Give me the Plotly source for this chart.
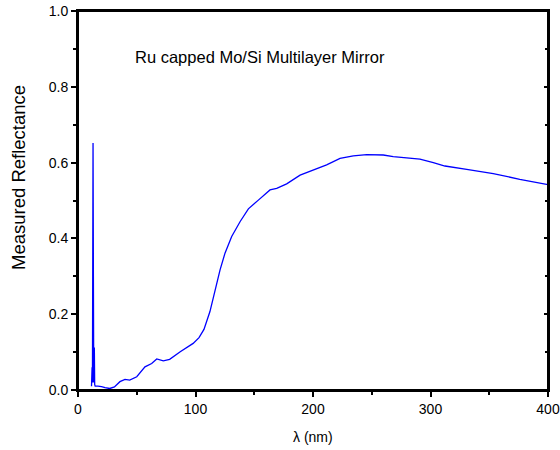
import plotly.graph_objects as go

wavelength = [11.5, 12.0, 12.3, 12.6, 12.8, 13.1, 13.4, 13.7, 13.9, 14.2, 14.6, 17, 20, 23, 27, 31,
              35.7, 40, 44, 50, 57, 62.7, 67, 72.6, 78, 87, 98, 103, 107.2, 112.3, 116.6,
              120.9, 125.1, 130.8, 137.9, 145, 153.5, 163.4, 169.1, 177.6, 189, 200.3,
              211.6, 223, 234.3, 245.7, 259.8, 268.3, 291, 302.4, 312.3, 330.8, 353.4,
              376, 398.9, 400]
reflectance = [0.010, 0.060, 0.020, 0.300, 0.652, 0.300, 0.020, 0.060, 0.112, 0.015, 0.010, 0.010, 0.009, 0.006, 0.004, 0.008,
               0.022, 0.028, 0.026, 0.035, 0.061, 0.070, 0.082, 0.077, 0.081, 0.101, 0.123, 0.138, 0.160, 0.207, 0.264,
               0.317, 0.361, 0.405, 0.444, 0.478, 0.501, 0.528, 0.532, 0.544, 0.567, 0.580,
               0.594, 0.611, 0.618, 0.621, 0.620, 0.616, 0.609, 0.600, 0.591, 0.582, 0.571,
               0.556, 0.543, 0.542]

x_tickvals = [0, 100, 200, 300, 400]
y_tickvals = [0.0, 0.2, 0.4, 0.6, 0.8, 1.0]
y_ticktext = ["0.0", "0.2", "0.4", "0.6", "0.8", "1.0"]
title_text = "Ru capped Mo/Si Multilayer Mirror"
x_title = "λ (nm)"
y_title = "Measured Reflectance"

font_family = "Liberation Sans, Arial, sans-serif"

FIG_W, FIG_H = 560, 450
ML, MR, MT, MB = 78, 12, 11, 60
plot_w = FIG_W - ML - MR
plot_h = FIG_H - MT - MB


def px_to_paper(px, py):
    return (px - ML) / plot_w, (FIG_H - MB - py) / plot_h


fig = go.Figure()
fig.add_trace(go.Scatter(x=wavelength, y=reflectance, mode="lines",
                         line=dict(color="#0000FF", width=1.3), showlegend=False))
# invisible helper trace for the right axis (inward ticks)
fig.add_trace(go.Scatter(x=wavelength, y=reflectance, mode="lines", xaxis="x", yaxis="y2",
                         line=dict(color="rgba(0,0,0,0)", width=0), showlegend=False, hoverinfo="skip"))

tx, ty = px_to_paper(133, 57)
xx, xy = px_to_paper(313, 437)
yx, yy = px_to_paper(18, 178)

fig.update_layout(
    width=FIG_W, height=FIG_H,
    margin=dict(l=ML, r=MR, t=MT, b=MB),
    paper_bgcolor="white", plot_bgcolor="white",
    font=dict(family=font_family, size=14, color="black"),
    xaxis=dict(range=[0, 400], tickvals=x_tickvals, ticks="outside", ticklen=5, tickwidth=1.5,
               tickcolor="black", showline=True, mirror=True, linecolor="black", linewidth=2,
               showgrid=False, zeroline=False, automargin=False, ticklabeloverflow="allow",
               minor=dict(dtick=50, tick0=0, ticks="outside", ticklen=3, tickwidth=1.5, tickcolor="black"),
               tickfont=dict(size=14)),
    yaxis=dict(range=[0, 1.0], tickvals=y_tickvals, ticktext=y_ticktext, ticks="outside", ticklen=5,
               tickwidth=1.5, tickcolor="black", showline=True, linecolor="black", linewidth=2,
               showgrid=False, zeroline=False, automargin=False, ticklabeloverflow="allow",
               minor=dict(dtick=0.1, tick0=0, ticks="outside", ticklen=3, tickwidth=1.5, tickcolor="black"),
               tickfont=dict(size=14)),
    yaxis2=dict(range=[0, 1.0], overlaying="y", side="right", anchor="x", showline=True,
                linecolor="black", linewidth=2, tickvals=y_tickvals, ticks="inside", ticklen=4,
                tickwidth=1.5, tickcolor="black", showticklabels=False, showgrid=False,
                zeroline=False, automargin=False,
                minor=dict(dtick=0.1, tick0=0, ticks="inside", ticklen=3, tickwidth=1.5, tickcolor="black")),
    shapes=[dict(type="rect", xref="paper", yref="paper", x0=0, x1=1, y0=0, y1=1,
                 line=dict(color="black", width=2), fillcolor="rgba(0,0,0,0)", layer="above")],
    annotations=[
        dict(text=title_text, x=tx, y=ty, xref="paper", yref="paper",
             xanchor="left", yanchor="middle", showarrow=False,
             font=dict(size=16.5, family=font_family, color="black")),
        dict(text=x_title, x=xx, y=xy, xref="paper", yref="paper",
             xanchor="center", yanchor="middle", showarrow=False,
             font=dict(size=14, family=font_family, color="black")),
        dict(text=y_title, x=yx, y=yy, xref="paper", yref="paper", textangle=-90,
             xanchor="center", yanchor="middle", showarrow=False,
             font=dict(size=18.5, family=font_family, color="black")),
    ],
)

fig.write_html("out.html", config={"displayModeBar": False},
               post_script="document.body.style.margin='0';document.body.style.overflow='hidden';")
